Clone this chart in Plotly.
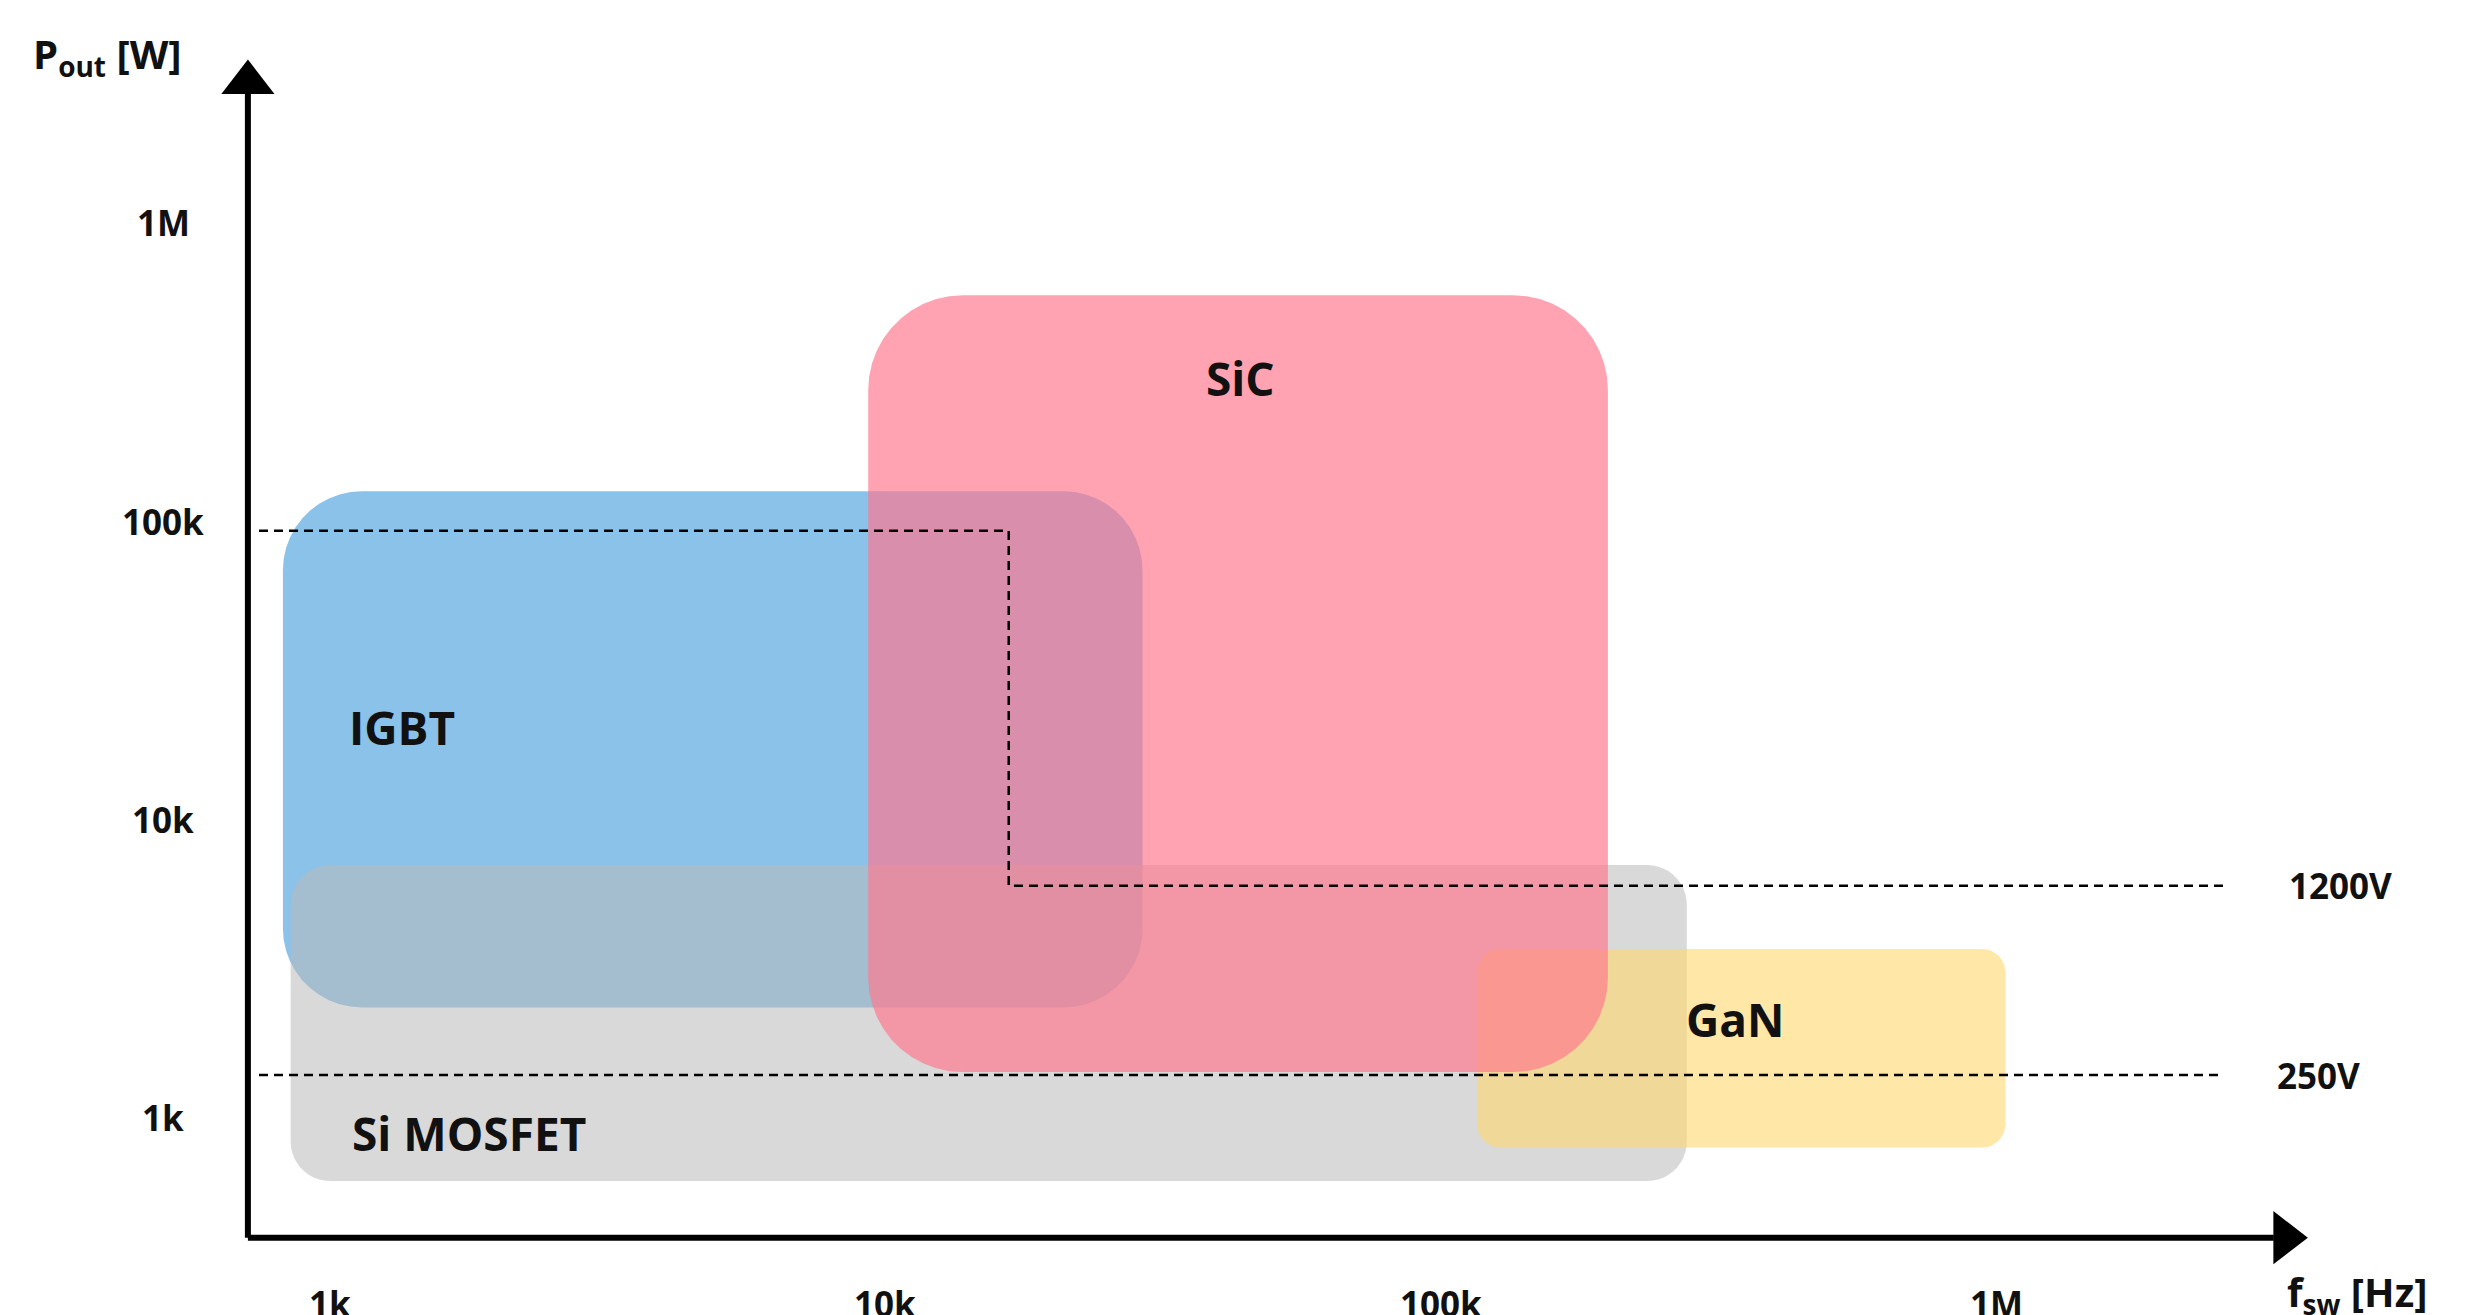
import numpy as np
import plotly.graph_objects as go

# Regions: log10(frequency Hz) and log10(power W) extents
regions = ["IGBT", "Si MOSFET", "GaN", "SiC"]
f_lo = [2.915, 2.929, 5.065, 3.969]
f_hi = [4.463, 5.443, 6.017, 5.301]
p_lo = [3.37, 2.788, 2.90, 3.153]
p_hi = [5.10, 3.847, 3.566, 5.757]
label_f = [3.13, 3.25, 5.53, 4.64]
label_p = [4.31, 2.95, 3.33, 5.48]

x_ticks = [3, 4, 5, 6]
x_tick_text = ["1k", "10k", "100k", "1M"]
y_ticks = [3, 4, 5, 6]
y_tick_text = ["1k", "10k", "100k", "1M"]

v1200_f = [2.872, 4.222, 4.222, 6.409]
v1200_p = [4.968, 4.968, 3.778, 3.778]
v250_f = [2.872, 6.409]
v250_p = [3.143, 3.143]

colors = ["rgba(88,168,224,0.7)", "rgba(185,185,185,0.55)",
          "rgba(255,215,110,0.6)", "rgba(255,120,142,0.68)"]
radii = [50, 25, 15, 60]  # display px
PX_X, PX_Y = 352.0, 189.0  # display px per decade

def rrect(x0, x1, y0, y1, r):
    rx, ry = r / PX_X, r / PX_Y
    xs, ys = [], []
    corners = [(x1 - rx, y1 - ry, 0), (x0 + rx, y1 - ry, 90),
               (x0 + rx, y0 + ry, 180), (x1 - rx, y0 + ry, 270)]
    for cx, cy, a0 in corners:
        t = np.radians(np.linspace(a0, a0 + 90, 12))
        xs += list(cx + rx * np.cos(t)); ys += list(cy + ry * np.sin(t))
    xs.append(xs[0]); ys.append(ys[0])
    return xs, ys

fig = go.Figure()
for i, name in enumerate(regions):
    xs, ys = rrect(f_lo[i], f_hi[i], p_lo[i], p_hi[i], radii[i])
    fig.add_trace(go.Scatter(x=xs, y=ys, fill="toself", fillcolor=colors[i],
                             line=dict(width=0), mode="lines", hoverinfo="skip",
                             showlegend=False))

for fx, py in [(v1200_f, v1200_p), (v250_f, v250_p)]:
    fig.add_trace(go.Scatter(x=fx, y=py, mode="lines", showlegend=False,
                             line=dict(color="black", width=2.5, dash="9px,6px")))

# axes with arrows
ox, oy = 2.852, 2.598
fig.add_trace(go.Scatter(x=[ox, 6.50, ], y=[oy, oy], mode="lines", showlegend=False,
                         line=dict(color="black", width=6)))
fig.add_trace(go.Scatter(x=[ox, ox], y=[oy, 6.45], mode="lines", showlegend=False,
                         line=dict(color="black", width=6)))
fig.add_trace(go.Scatter(x=[6.52], y=[oy], mode="markers", showlegend=False,
                         marker=dict(symbol="triangle-right", size=46, color="black")))
fig.add_trace(go.Scatter(x=[ox], y=[6.47], mode="markers", showlegend=False,
                         marker=dict(symbol="triangle-up", size=46, color="black")))

font = "Open Sans"
ann = []
for i, name in enumerate(regions):
    ann.append(dict(x=label_f[i], y=label_p[i], text="<b>" + name + "</b>",
                    showarrow=False, font=dict(size=46, color="#111", family=font)))
for v, t in zip(x_ticks, x_tick_text):
    ann.append(dict(x=v, y=2.376, text="<b>" + t + "</b>", showarrow=False,
                    font=dict(size=35, color="#111", family=font)))
for v, t in zip(y_ticks, y_tick_text):
    ann.append(dict(x=2.70, y=v, text="<b>" + t + "</b>", showarrow=False,
                    font=dict(size=35, color="#111", family=font)))
ann.append(dict(x=6.62, y=3.778, text="<b>1200V</b>", showarrow=False,
                font=dict(size=35, color="#111", family=font)))
ann.append(dict(x=6.58, y=3.143, text="<b>250V</b>", showarrow=False,
                font=dict(size=35, color="#111", family=font)))
ann.append(dict(x=2.60, y=6.56, text="<b>P<sub>out</sub> [W]</b>", showarrow=False,
                font=dict(size=40, color="#111", family=font)))
ann.append(dict(x=6.65, y=2.41, text="<b>f<sub>sw</sub> [Hz]</b>", showarrow=False,
                font=dict(size=40, color="#111", family=font)))

fig.update_layout(width=2469, height=1315, margin=dict(l=0, r=0, t=0, b=0),
                  plot_bgcolor="white", paper_bgcolor="white", annotations=ann,
                  xaxis=dict(range=[2.420, 6.866], visible=False, fixedrange=True),
                  yaxis=dict(range=[2.312, 6.720], visible=False, fixedrange=True))
fig.write_html("out.html")
